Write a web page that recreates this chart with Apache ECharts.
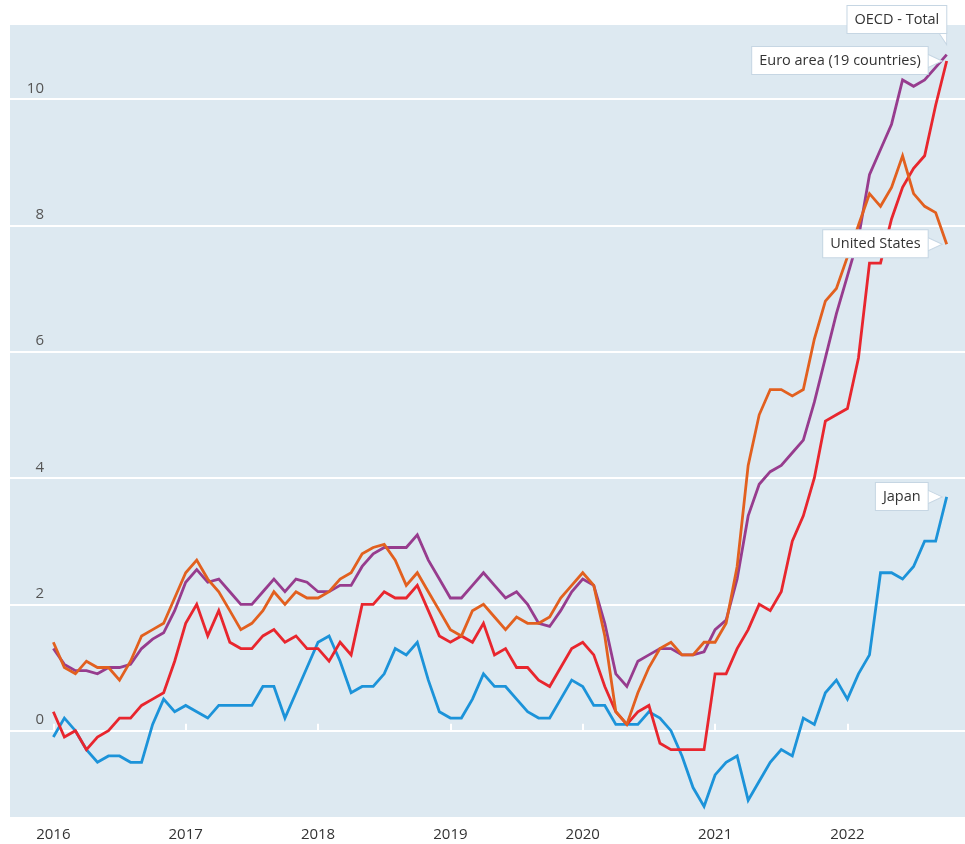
<!DOCTYPE html>
<html><head><meta charset="utf-8">
<script src="https://cdn.jsdelivr.net/npm/echarts@6/dist/echarts.min.js"></script>
<style>html,body{margin:0;padding:0;background:#fff}#c{width:965px;height:844px}</style>
</head><body><div id="c"></div>
<script>
// Monthly CPI inflation (% y/y), Jan 2016 – Oct 2022
const years = ['2016', '2017', '2018', '2019', '2020', '2021', '2022'];
const yTicks = [0, 2, 4, 6, 8, 10];

const oecdTotal = [
  1.3, 1.05, 0.95, 0.95, 0.9, 1.0, 1.0, 1.05, 1.3, 1.45, 1.55, 1.9,
  2.35, 2.55, 2.35, 2.4, 2.2, 2.0, 2.0, 2.2, 2.4, 2.2, 2.4, 2.35,
  2.2, 2.2, 2.3, 2.3, 2.6, 2.8, 2.9, 2.9, 2.9, 3.1, 2.7, 2.4,
  2.1, 2.1, 2.3, 2.5, 2.3, 2.1, 2.2, 2.0, 1.7, 1.65, 1.9, 2.2,
  2.4, 2.3, 1.7, 0.9, 0.7, 1.1, 1.2, 1.3, 1.3, 1.2, 1.2, 1.25,
  1.6, 1.75, 2.4, 3.4, 3.9, 4.1, 4.2, 4.4, 4.6, 5.2, 5.9, 6.6,
  7.2, 7.8, 8.8, 9.2, 9.6, 10.3, 10.2, 10.3, 10.5, 10.7
];
const euroArea = [
  0.3, -0.1, 0.0, -0.3, -0.1, 0.0, 0.2, 0.2, 0.4, 0.5, 0.6, 1.1,
  1.7, 2.0, 1.5, 1.9, 1.4, 1.3, 1.3, 1.5, 1.6, 1.4, 1.5, 1.3,
  1.3, 1.1, 1.4, 1.2, 2.0, 2.0, 2.2, 2.1, 2.1, 2.3, 1.9, 1.5,
  1.4, 1.5, 1.4, 1.7, 1.2, 1.3, 1.0, 1.0, 0.8, 0.7, 1.0, 1.3,
  1.4, 1.2, 0.7, 0.3, 0.1, 0.3, 0.4, -0.2, -0.3, -0.3, -0.3, -0.3,
  0.9, 0.9, 1.3, 1.6, 2.0, 1.9, 2.2, 3.0, 3.4, 4.0, 4.9, 5.0,
  5.1, 5.9, 7.4, 7.4, 8.1, 8.6, 8.9, 9.1, 9.9, 10.6
];
const unitedStates = [
  1.4, 1.0, 0.9, 1.1, 1.0, 1.0, 0.8, 1.1, 1.5, 1.6, 1.7, 2.1,
  2.5, 2.7, 2.4, 2.2, 1.9, 1.6, 1.7, 1.9, 2.2, 2.0, 2.2, 2.1,
  2.1, 2.2, 2.4, 2.5, 2.8, 2.9, 2.95, 2.7, 2.3, 2.5, 2.2, 1.9,
  1.6, 1.5, 1.9, 2.0, 1.8, 1.6, 1.8, 1.7, 1.7, 1.8, 2.1, 2.3,
  2.5, 2.3, 1.5, 0.3, 0.1, 0.6, 1.0, 1.3, 1.4, 1.2, 1.2, 1.4,
  1.4, 1.7, 2.6, 4.2, 5.0, 5.4, 5.4, 5.3, 5.4, 6.2, 6.8, 7.0,
  7.5, 8.0, 8.5, 8.3, 8.6, 9.1, 8.5, 8.3, 8.2, 7.7
];
const japan = [
  -0.1, 0.2, 0.0, -0.3, -0.5, -0.4, -0.4, -0.5, -0.5, 0.1, 0.5, 0.3,
  0.4, 0.3, 0.2, 0.4, 0.4, 0.4, 0.4, 0.7, 0.7, 0.2, 0.6, 1.0,
  1.4, 1.5, 1.1, 0.6, 0.7, 0.7, 0.9, 1.3, 1.2, 1.4, 0.8, 0.3,
  0.2, 0.2, 0.5, 0.9, 0.7, 0.7, 0.5, 0.3, 0.2, 0.2, 0.5, 0.8,
  0.7, 0.4, 0.4, 0.1, 0.1, 0.1, 0.3, 0.2, 0.0, -0.4, -0.9, -1.2,
  -0.7, -0.5, -0.4, -1.1, -0.8, -0.5, -0.3, -0.4, 0.2, 0.1, 0.6, 0.8,
  0.5, 0.9, 1.2, 2.5, 2.5, 2.4, 2.6, 3.0, 3.0, 3.7
];

const FONT = 'Open Sans';
const boxLabel = {
  show: true,
  formatter: p => p.seriesName,
  color: '#333',
  fontFamily: FONT,
  fontSize: 14.5,
  lineHeight: 17,
  backgroundColor: '#ffffff',
  borderColor: '#c6d6e3',
  borderWidth: 1,
  padding: [5, 7]
};
const tailStyle = { color: '#ffffff', borderColor: '#c6d6e3', borderWidth: 1 };

function endPoint(arr) { return [{ coord: [arr.length - 1, arr[arr.length - 1]] }]; }
function sideCallout(arr) {
  return {
    silent: true, animation: false,
    symbol: 'path://M0 0 L14 7 L0 14 Z',
    symbolSize: [15, 14],
    symbolOffset: [-12, 0],
    itemStyle: tailStyle,
    label: Object.assign({}, boxLabel, { position: [1, 7], align: 'right', verticalAlign: 'middle' }),
    data: endPoint(arr)
  };
}
function topCallout(arr) {
  return {
    silent: true, animation: false,
    symbol: 'path://M0 0 L8 0 L8 12 Z',
    symbolSize: [8, 12],
    symbolOffset: [-4, -16],
    itemStyle: tailStyle,
    label: Object.assign({}, boxLabel, { position: [8, 1], align: 'right', verticalAlign: 'bottom' }),
    data: endPoint(arr)
  };
}

function lineSeries(name, arr, color, mp) {
  return {
    name, type: 'line', showSymbol: false, symbol: 'none',
    lineStyle: { color, width: 2.8, join: 'miter' },
    itemStyle: { color },
    data: arr.map((v, i) => [i, v]),
    markPoint: mp,
    animation: false
  };
}

const yearTicks = years.map((y, i) => i * 12);

const chart = echarts.init(document.getElementById('c'), null, { renderer: 'canvas' });
chart.setOption({
  backgroundColor: '#ffffff',
  animation: false,
  grid: { left: 10, right: 0, top: 25, bottom: 27, show: true, backgroundColor: '#dde9f1', borderWidth: 0 },
  xAxis: {
    type: 'value', min: -3.93, max: 82.66,
    axisLine: { show: false },
    splitLine: { show: false },
    axisTick: { show: true, inside: true, length: 7, lineStyle: { color: '#ffffff', width: 2 }, customValues: yearTicks },
    axisLabel: { customValues: yearTicks, formatter: v => years[Math.round(v / 12)], margin: 10, fontSize: 15, color: '#333333', fontFamily: FONT }
  },
  yAxis: {
    type: 'value', min: -1.366, max: 11.17,
    axisLine: { show: false },
    axisTick: { show: false, customValues: yTicks },
    splitLine: { show: true, lineStyle: { color: '#ffffff', width: 2 } },
    axisLabel: { customValues: yTicks, inside: true, align: 'right', verticalAlign: 'bottom', margin: 34, padding: [0, 0, 3, 0], fontSize: 15, color: '#555555', fontFamily: FONT }
  },
  series: [
    lineSeries('Japan', japan, '#1c93d9', sideCallout(japan)),
    lineSeries('Euro area (19 countries)', euroArea, '#e8262e', sideCallout(euroArea)),
    lineSeries('OECD - Total', oecdTotal, '#973c8e', topCallout(oecdTotal)),
    lineSeries('United States', unitedStates, '#e2601f', sideCallout(unitedStates))
  ]
});
</script>
</body></html>
